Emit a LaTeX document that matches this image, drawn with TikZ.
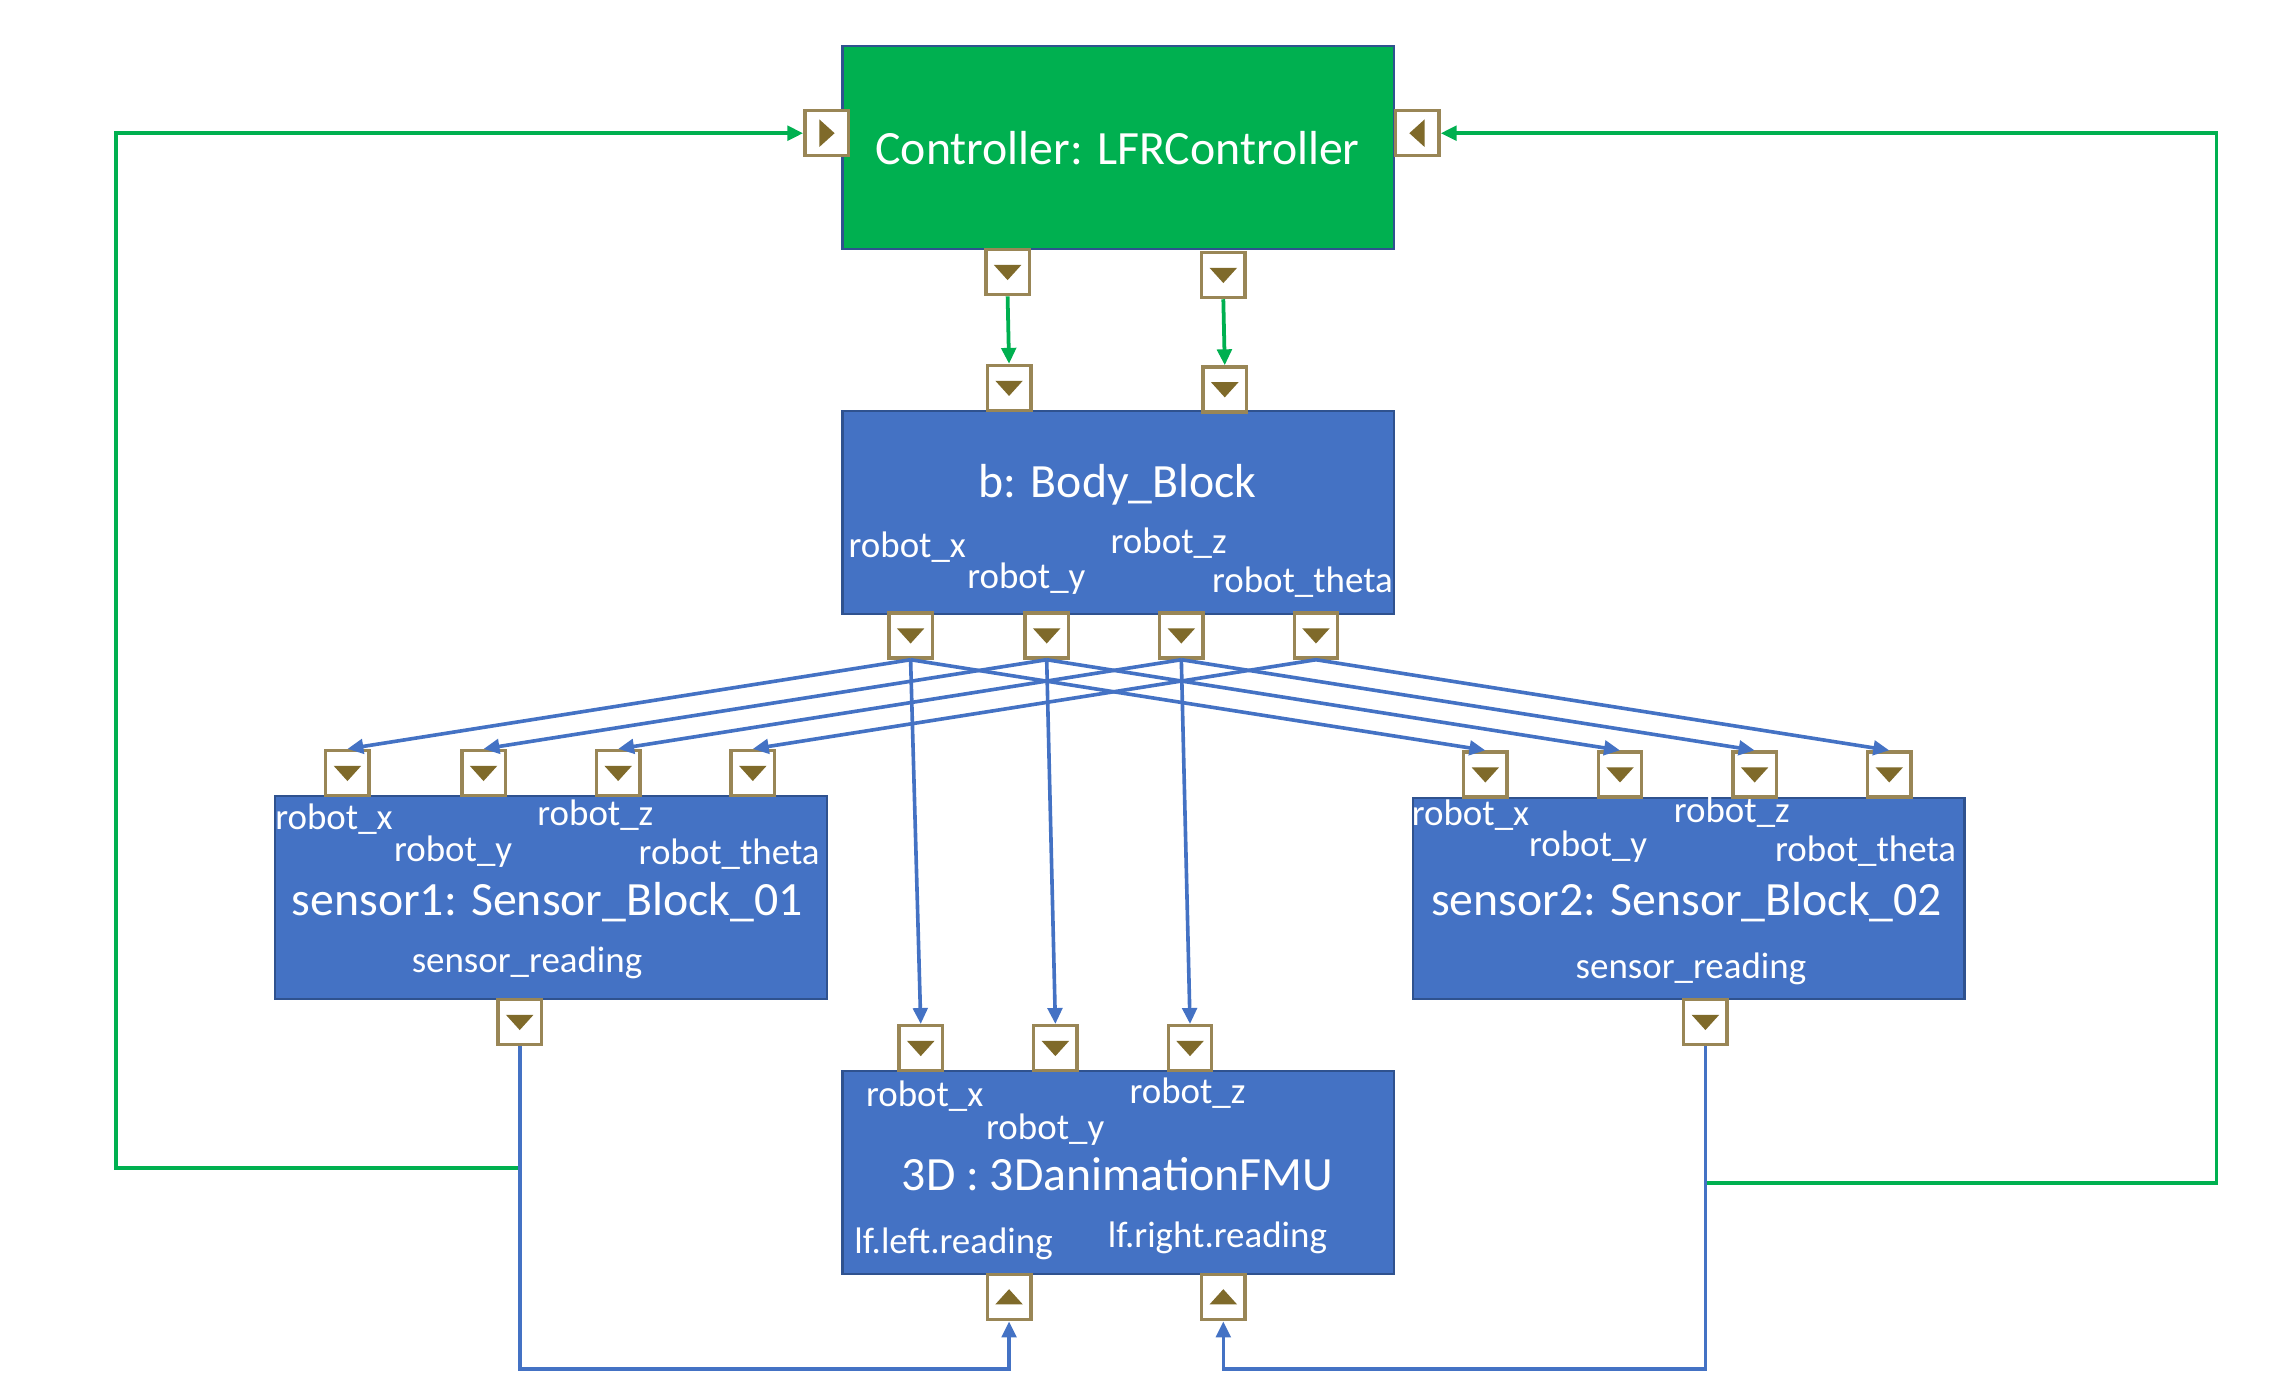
\documentclass[tikz,border=0pt]{standalone}
\usepackage{fontspec}
\setmainfont{Carlito}
\usetikzlibrary{arrows.meta,calc}
\definecolor{cgreen}{HTML}{00B050}
\definecolor{cblue}{HTML}{4472C4}
\definecolor{cborder}{HTML}{2F528F}
\definecolor{pframe}{HTML}{998656}
\definecolor{ptri}{HTML}{7F6A2A}
\tikzset{
  blockbox/.style={draw=cborder, line width=1.5pt, minimum width=381pt, minimum height=140pt, inner sep=0},
  bluebox/.style={blockbox, fill=cblue},
  greenbox/.style={blockbox, fill=cgreen},
  title/.style={text=white, inner sep=0, font=\fontsize{33}{40}\selectfont},
  lbl/.style={text=white, inner sep=0, anchor=west, font=\fontsize{25.5}{30}\selectfont},
  port/.style={draw=pframe, line width=2.4pt, fill=white, minimum width=30pt, minimum height=31pt, inner sep=0},
  pdown/.style={port, path picture={\fill[ptri] ($(path picture bounding box.center)+(-9.5pt,5pt)$) -- ++(19pt,0pt) -- ($(path picture bounding box.center)+(0pt,-5.5pt)$) -- cycle;}},
  pup/.style={port, path picture={\fill[ptri] ($(path picture bounding box.center)+(-9.5pt,-5pt)$) -- ++(19pt,0pt) -- ($(path picture bounding box.center)+(0pt,5.5pt)$) -- cycle;}},
  pright/.style={port, path picture={\fill[ptri] ($(path picture bounding box.center)+(-5pt,9.5pt)$) -- ++(0pt,-19pt) -- ($(path picture bounding box.center)+(5.5pt,0pt)$) -- cycle;}},
  pleft/.style={port, path picture={\fill[ptri] ($(path picture bounding box.center)+(5pt,9.5pt)$) -- ++(0pt,-19pt) -- ($(path picture bounding box.center)+(-5.5pt,0pt)$) -- cycle;}},
  blueline/.style={draw=cblue, line width=2.5pt, -{Triangle[length=11pt,width=10pt]}},
  greenline/.style={draw=cgreen, line width=2.6pt, -{Triangle[length=11pt,width=10pt]}},
}
\begin{document}
\begin{tikzpicture}[x=1pt,y=-1pt]
\useasboundingbox[fill=white] (0,0) rectangle (1568,967);

% blocks
\node[greenbox] (ctrl) at (772.5,102) {};
\node[bluebox] (body) at (772.5,354) {};
\node[bluebox] (s1) at (380.5,620) {};
\node[bluebox, minimum height=139pt] (s2) at (1166.5,620.5) {};
\node[bluebox] (d3) at (772.5,810) {};

% titles
\node[title] (ctrlT) at (772,102) {Controller: LFRController};
\node[title] (bodyT) at (772,335) {b: Body\_Block};
\node[title] (s1T) at (378,623) {sensor1: Sensor\_Block\_01};
\node[title] (s2T) at (1165,623) {sensor2: Sensor\_Block\_02};
\node[title] (d3T) at (772,811) {3D : 3DanimationFMU};

% labels body
\node[lbl] (lbx) at (586,378) {robot\_x};
\node[lbl] (lby) at (668,400) {robot\_y};
\node[lbl] (lbz) at (767,375) {robot\_z};
\node[lbl] (lbt) at (837,402) {robot\_theta};
% labels sensor1
\node[lbl] (l1x) at (190,566) {robot\_x};
\node[lbl] (l1y) at (272,588) {robot\_y};
\node[lbl] (l1z) at (371,563) {robot\_z};
\node[lbl] (l1t) at (441,590) {robot\_theta};
\node[text=white, inner sep=0, font=\fontsize{25.5}{30}\selectfont] (l1r) at (364,665) {sensor\_reading};
% labels sensor2
\node[lbl] (l2x) at (975,563) {robot\_x};
\node[lbl] (l2y) at (1056,585) {robot\_y};
\node[lbl] (l2z) at (1156,561) {robot\_z};
\node[lbl] (l2t) at (1226,588) {robot\_theta};
\node[text=white, inner sep=0, font=\fontsize{25.5}{30}\selectfont] (l2r) at (1168,669) {sensor\_reading};
% labels 3D
\node[lbl] (ldx) at (598,757) {robot\_x};
\node[lbl] (ldy) at (681,780) {robot\_y};
\node[lbl] (ldz) at (780,755) {robot\_z};
\node[lbl] (ldl) at (590,859) {lf.left.reading};
\node[lbl] (ldr) at (765,855) {lf.right.reading};

% ports
\node[pright] (cL) at (571,92) {};
\node[pleft] (cR) at (979,92) {};
\node[pdown] (cB1) at (696,188) {};
\node[pdown] (cB2) at (845,190) {};
\node[pdown] (bT1) at (697,268) {};
\node[pdown] (bT2) at (846,269) {};
\node[pdown] (bB1) at (629,439) {};
\node[pdown] (bB2) at (723,439) {};
\node[pdown] (bB3) at (816,439) {};
\node[pdown] (bB4) at (909,439) {};
\node[pdown] (s1T1) at (240,534) {};
\node[pdown] (s1T2) at (334,534) {};
\node[pdown] (s1T3) at (427,534) {};
\node[pdown] (s1T4) at (520,534) {};
\node[pdown] (s2T1) at (1026,535) {};
\node[pdown] (s2T2) at (1119,535) {};
\node[pdown] (s2T3) at (1212,535) {};
\node[pdown] (s2T4) at (1305,535) {};
\node[pdown] (s1B) at (359,706) {};
\node[pdown] (s2B) at (1178,706) {};
\node[pdown] (dT1) at (636,724) {};
\node[pdown] (dT2) at (729,724) {};
\node[pdown] (dT3) at (822,724) {};
\node[pup] (dB1) at (697,896) {};
\node[pup] (dB2) at (845,896) {};

% green connectors
\draw[greenline] (cB1.south) -- (bT1.north);
\draw[greenline] (cB2.south) -- (bT2.north);
\coordinate (gL) at (359,807);
\coordinate (gR) at (1178,817);
\draw[greenline] (gL) -- (80,807) |- (cL.west);
\draw[greenline] (gR) -- (1531,817) |- (cR.east);

% blue connectors
\draw[blueline] (s1B.south) -- ++(0,223) -| (dB1.south);
\draw[blueline] (s2B.south) -- ++(0,223) -| (dB2.south);
\foreach \i in {1,2,3,4} {
  \draw[blueline] (bB\i.south) -- (s1T\i.north);
  \draw[blueline] (bB\i.south) -- (s2T\i.north);
}
\foreach \i in {1,2,3} {
  \draw[blueline] (bB\i.south) -- (dT\i.north);
}
\end{tikzpicture}
\end{document}
